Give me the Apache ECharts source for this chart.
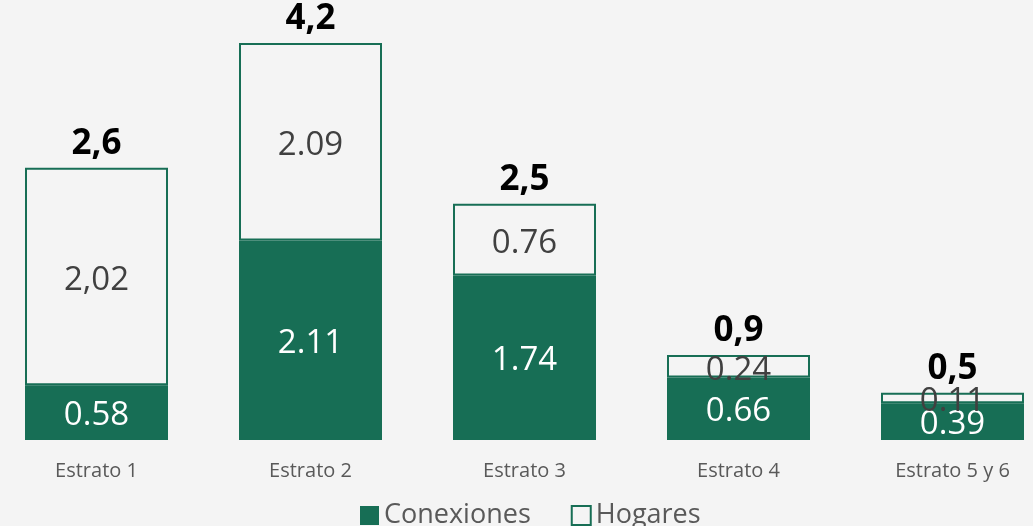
<!DOCTYPE html>
<html>
<head>
<meta charset="utf-8">
<script src="https://cdn.jsdelivr.net/npm/echarts@6/dist/echarts.min.js"></script>
<style>
html,body{margin:0;padding:0;background:#f4f4f4;}
#c{width:1033px;height:526px;}
</style>
</head>
<body>
<div id="c"></div>
<script>
const categories = ['Estrato 1', 'Estrato 2', 'Estrato 3', 'Estrato 4', 'Estrato 5 y 6'];
const conexiones = [0.58, 2.11, 1.74, 0.66, 0.39];
// bar heights as drawn in the picture
const hogares = [2.3, 2.09, 0.76, 0.24, 0.11];
const hogaresLabels = ['2,02', '2.09', '0.76', '0.24', '0.11'];
const conexionesLabels = ['0.58', '2.11', '1.74', '0.66', '0.39'];
const totalLabels = ['2,6', '4,2', '2,5', '0,9', '0,5'];

const GREEN = '#176e55';
const FONT = '"Open Sans", "Noto Sans", sans-serif';

const chart = echarts.init(document.getElementById('c'));
chart.setOption({
  backgroundColor: '#f4f4f4',
  animation: false,
  grid: { left: -10.5, width: 1070, top: 43, bottom: 86, outerBoundsMode: 'none', containLabel: false },
  xAxis: {
    type: 'category',
    data: categories,
    axisLine: { show: false },
    axisTick: { show: false },
    axisLabel: { color: '#595959', fontSize: 20, fontFamily: FONT, margin: 21 }
  },
  yAxis: { type: 'value', min: 0, max: 4.2, show: false, splitLine: { show: false } },
  legend: {
    top: 497,
    left: 355,
    icon: 'rect',
    itemWidth: 19,
    itemHeight: 19,
    itemGap: 40,
    textStyle: { fontSize: 27, color: '#595959', fontFamily: FONT },
    data: [
      { name: 'Conexiones', itemStyle: { color: GREEN } },
      { name: 'Hogares', itemStyle: { color: '#f4f4f4', borderColor: GREEN, borderWidth: 2 } }
    ]
  },
  series: [
    {
      name: 'Conexiones', type: 'bar', stack: 'a', barWidth: 143,
      data: conexiones,
      itemStyle: { color: GREEN },
      label: {
        show: true, position: 'inside', offset: [0, 3], color: '#ffffff', fontSize: 33, fontFamily: FONT,
        formatter: p => conexionesLabels[p.dataIndex]
      }
    },
    {
      name: 'Hogares', type: 'bar', stack: 'a', barWidth: 143,
      data: hogares,
      itemStyle: { color: '#f4f4f4', borderColor: GREEN, borderWidth: 2 },
      label: {
        show: true, position: 'inside', offset: [0, 4], color: '#404040', fontSize: 33, fontFamily: FONT,
        formatter: p => hogaresLabels[p.dataIndex]
      }
    },
    {
      name: 'Total', type: 'bar', stack: 'a', barWidth: 143,
      data: categories.map(() => 0),
      itemStyle: { color: 'transparent' },
      label: {
        show: true, position: 'top', distance: 6, color: '#000000', fontSize: 35, fontWeight: 'bold', fontFamily: FONT,
        formatter: p => totalLabels[p.dataIndex]
      }
    }
  ]
});
</script>
</body>
</html>
